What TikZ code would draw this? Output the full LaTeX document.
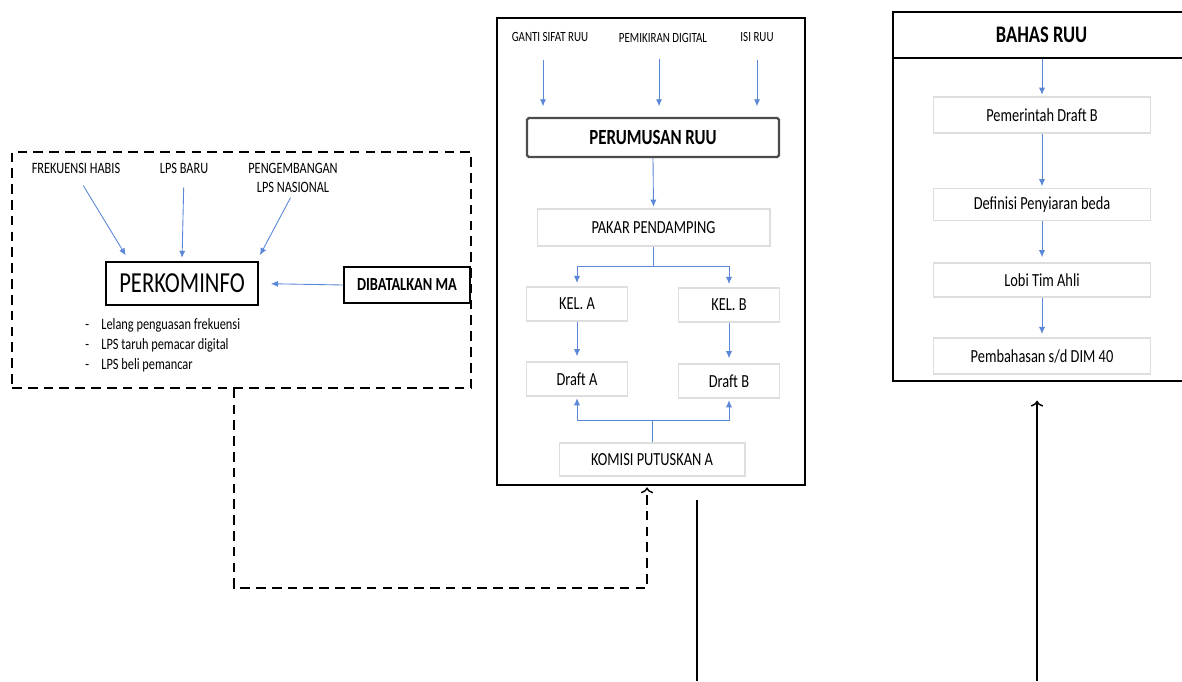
\documentclass[tikz,border=0pt]{standalone}
\usepackage{fontspec}
\setmainfont[FakeStretch=0.78]{Carlito}
\usepackage{tikz}
\usetikzlibrary{arrows.meta}

\definecolor{flowblue}{RGB}{90,135,215}

\begin{document}
\begin{tikzpicture}[x=0.02cm,y=-0.02cm,
    lbl/.style={inner sep=0pt,font=\fontsize{8}{9.6}\selectfont,align=center},
    box/.style={draw=black,line width=0.8pt,inner sep=0pt},
    softbox/.style={draw=black!13,line width=0.6pt,inner sep=0pt,
        minimum height=0.68cm,font=\fontsize{10.5}{12}\selectfont},
    flow/.style={draw=flowblue,line width=0.5pt,-{Latex[length=4pt,width=3.5pt]}},
    link/.style={line width=0.8pt}]
    \useasboundingbox (0,0) rectangle (1182,681);

    % kotak PERKOMINFO
    \node[box,dashed,dash pattern=on 5.5pt off 3.5pt,minimum width=9.18cm,minimum height=4.72cm]
        (lpsframe) at (241.5,270) {};
    \node[lbl,font=\fontsize{9}{10.8}\selectfont] (frekuensi) at (76,168) {FREKUENSI HABIS};
    \node[lbl,font=\fontsize{9}{10.8}\selectfont] (lpsbaru) at (184,168) {LPS BARU};
    \node[lbl,font=\fontsize{9}{10.8}\selectfont] (lpsnas) at (293,178) {PENGEMBANGAN\\LPS NASIONAL};
    \node[box,minimum width=3.04cm,minimum height=0.86cm,font=\fontsize{16.5}{20}\selectfont]
        (perkominfo) at (182,283.5) {PERKOMINFO};
    \node[box,minimum width=2.52cm,minimum height=0.72cm,font=\fontsize{10.5}{12}\selectfont\bfseries]
        (batal) at (407,285) {DIBATALKAN MA};
    \node[inner sep=0pt,anchor=north west,align=left,font=\fontsize{9}{11.4}\selectfont]
        (catatan) at (85,318) {-\hspace{7pt}Lelang penguasan frekuensi\\
        -\hspace{7pt}LPS taruh pemacar digital\\
        -\hspace{7pt}LPS beli pemancar};
    \draw[flow,shorten <=8pt,shorten >=4pt] (frekuensi.south) -- ([xshift=0.48cm]perkominfo.north west);
    \draw[flow,shorten <=8pt,shorten >=2pt] (lpsbaru.south) -- (perkominfo.north);
    \draw[flow,shorten <=3pt,shorten >=4pt] (lpsnas.south) -- ([xshift=-0.04cm]perkominfo.north east);
    \draw[flow,shorten >=7pt] (batal.west) -- (perkominfo.east);

    % kotak PERUMUSAN RUU
    \node[box,minimum width=6.16cm,minimum height=9.34cm] (ruuframe) at (651,251.5) {};
    \node[lbl] (ganti) at (550,37) {GANTI SIFAT RUU};
    \node[lbl] (digital) at (663,38) {PEMIKIRAN DIGITAL};
    \node[lbl] (isi) at (757,37) {ISI RUU};
    \node[draw=black!70,line width=1.3pt,rounded corners=1pt,inner sep=0pt,
        minimum width=5.04cm,minimum height=0.78cm,font=\fontsize{12.3}{15}\selectfont\bfseries]
        (perumusan) at (653,137.5) {PERUMUSAN RUU};
    \node[softbox,minimum width=4.66cm,minimum height=0.74cm] (pakar) at (653.5,227.5) {PAKAR PENDAMPING};
    \node[softbox,minimum width=2.02cm] (kela) at (577,304) {KEL. A};
    \node[softbox,minimum width=2.02cm] (kelb) at (729,305) {KEL. B};
    \node[softbox,minimum width=2.02cm] (drafta) at (577,379) {Draft A};
    \node[softbox,minimum width=2.02cm] (draftb) at (729,381) {Draft B};
    \node[softbox,minimum width=3.72cm,minimum height=0.66cm] (komisi) at (652,459.5) {KOMISI PUTUSKAN A};
    \draw[flow,shorten <=10pt,shorten >=6pt] (ganti.south -| 543,0) -- (perumusan.north -| 543,0);
    \draw[flow,shorten <=9pt,shorten >=6pt] (digital.south -| 659,0) -- (perumusan.north -| 659,0);
    \draw[flow,shorten <=10pt,shorten >=6pt] (isi.south) -- (perumusan.north -| isi.south);
    \draw[flow,shorten >=1pt] (perumusan.south) -- (pakar.north);
    \coordinate (bagi) at (653.5,266);
    \coordinate (gabung) at (652,420);
    \draw[flow,shorten >=2pt] (pakar.south) -- (bagi) -| (kela.north);
    \draw[flow,shorten >=2pt] (bagi) -| (kelb.north);
    \draw[flow,shorten >=3pt] (kela.south) -- (drafta.north);
    \draw[flow,shorten >=3pt] (kelb.south) -- (draftb.north);
    \draw[flow,shorten >=1pt] (komisi.north) -- (gabung) -| (drafta.south);
    \draw[flow,shorten >=1pt] (gabung) -| (draftb.south);

    % kotak BAHAS RUU
    \node[box,minimum width=5.94cm,minimum height=7.38cm] (bahasframe) at (1041.5,196.5) {};
    \node[box,minimum width=5.94cm,minimum height=0.92cm,font=\fontsize{13.5}{16}\selectfont\bfseries]
        (bahas) at (1041.5,35) {BAHAS RUU};
    \node[softbox,minimum width=4.34cm,minimum height=0.72cm] (pemerintah) at (1042,115) {Pemerintah Draft B};
    \node[softbox,minimum width=4.34cm,minimum height=0.64cm] (definisi) at (1042,204.5) {Definisi Penyiaran beda};
    \node[softbox,minimum width=4.34cm] (lobi) at (1042,280) {Lobi Tim Ahli};
    \node[softbox,minimum width=4.34cm,minimum height=0.72cm] (pembahasan) at (1042,356) {Pembahasan s/d DIM 40};
    \draw[flow,shorten >=1pt] (bahas.south -| pemerintah.north) -- (pemerintah.north);
    \draw[flow,shorten >=1pt] (pemerintah.south) -- (definisi.north);
    \draw[flow,shorten >=3pt] (definisi.south) -- (lobi.north);
    \draw[flow,shorten >=2pt] (lobi.south) -- (pembahasan.north);

    % sambungan bawah
    \coordinate (belok1) at (234,588);
    \coordinate (belok2) at (647,588);
    \coordinate (keluar) at (697,500);
    \coordinate (ujungA) at (697,681);
    \coordinate (ujungB) at (1037,681);
    \draw[link,->,dashed,dash pattern=on 5.5pt off 3.5pt,shorten >=1pt]
        (lpsframe.south -| belok1) -- (belok1) -- (belok2) -- (ruuframe.south -| belok2);
    \draw[link] (keluar) -- (ujungA);
    \draw[link,->,shorten >=0.38cm] (ujungB) -- (bahasframe.south -| ujungB);
\end{tikzpicture}
\end{document}
